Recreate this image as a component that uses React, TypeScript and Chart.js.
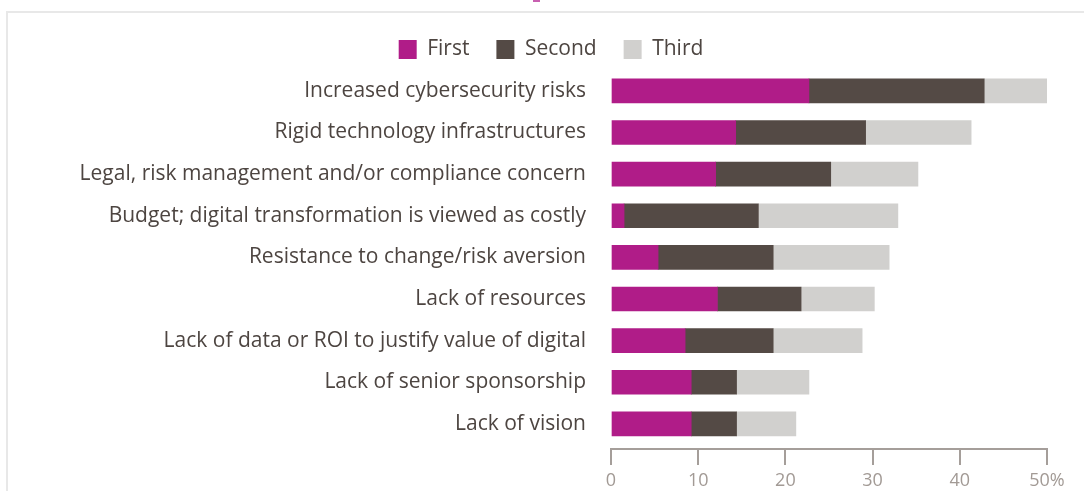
import React, { useEffect, useRef } from "react";
import { Chart, registerables } from "chart.js";

Chart.register(...registerables);

const categories = [
  "Increased cybersecurity risks",
  "Rigid technology infrastructures",
  "Legal, risk management and/or compliance concern",
  "Budget; digital transformation is viewed as costly",
  "Resistance to change/risk aversion",
  "Lack of resources",
  "Lack of data or ROI to justify value of digital",
  "Lack of senior sponsorship",
  "Lack of vision",
];

const firstValues = [22.7, 14.3, 12.0, 1.5, 5.4, 12.2, 8.5, 9.2, 9.2];
const secondValues = [20.1, 14.9, 13.2, 15.4, 13.2, 9.6, 10.1, 5.2, 5.2];
const thirdValues = [7.3, 12.1, 10.0, 16.0, 13.3, 8.4, 10.2, 8.3, 6.8];

const seriesNames = ["First", "Second", "Third"];
const xTickLabels = ["0", "10", "20", "30", "40", "50%"];

const FONT = "'Open Sans', 'Noto Sans', sans-serif";

export default function App() {
  const canvasRef = useRef<HTMLCanvasElement | null>(null);

  useEffect(() => {
    const canvas = canvasRef.current;
    if (!canvas) return;
    const chart = new Chart(canvas, {
      type: "bar",
      data: {
        labels: categories,
        datasets: [
          { label: seriesNames[0], data: firstValues, backgroundColor: "#b01c88" },
          { label: seriesNames[1], data: secondValues, backgroundColor: "#544a45" },
          { label: seriesNames[2], data: thirdValues, backgroundColor: "#d1d0ce" },
        ],
      },
      options: {
        indexAxis: "y",
        responsive: false,
        animation: false,
        maintainAspectRatio: false,
        datasets: { bar: { barThickness: 24 } },
        layout: { padding: { top: 12, right: 37, bottom: 46.25, left: 55 } },
        plugins: {
          legend: {
            position: "top",
            maxHeight: 59.25,
            labels: {
              boxWidth: 18,
              boxHeight: 19,
              padding: 27,
              color: "#4d4541",
              font: { family: FONT, size: 21 },
            },
          },
          tooltip: { enabled: false },
        },
        scales: {
          x: {
            stacked: true,
            min: 0,
            max: 50,
            position: { y: 8.6 } as any,
            border: { display: true, color: "#a59e9a", width: 2 },
            grid: {
              drawOnChartArea: false,
              drawTicks: true,
              tickLength: 15,
              color: "#a59e9a",
              lineWidth: 2,
            },
            ticks: {
              stepSize: 10,
              padding: 6,
              color: "#a29a95",
              font: { family: FONT, size: 18 },
              callback: (_v: any, i: number) => xTickLabels[i],
            },
          },
          y: {
            stacked: true,
            border: { display: false },
            grid: { display: false, drawTicks: false },
            ticks: {
              padding: 25,
              color: "#4d4541",
              font: { family: FONT, size: 21 },
            },
            afterFit: (scale: any) => {
              scale.width = 556;
            },
          },
        },
      },
    });
    return () => chart.destroy();
  }, []);

  return (
    <div style={{ position: "absolute", left: 0, top: 0, width: 1084, height: 491, background: "#fff", overflow: "hidden" }}>
      <div style={{ position: "absolute", left: 533, top: 0, width: 7, height: 2, background: "#c860b0" }} />
      <div
        style={{
          position: "absolute",
          left: 6,
          top: 11,
          width: 1080,
          height: 482,
          borderTop: "2px solid #e8e8e8",
          borderLeft: "2px solid #e8e8e8",
        }}
      />
      <canvas ref={canvasRef} width={1084} height={491} style={{ position: "absolute", left: 0, top: 0 }} />
    </div>
  );
}
